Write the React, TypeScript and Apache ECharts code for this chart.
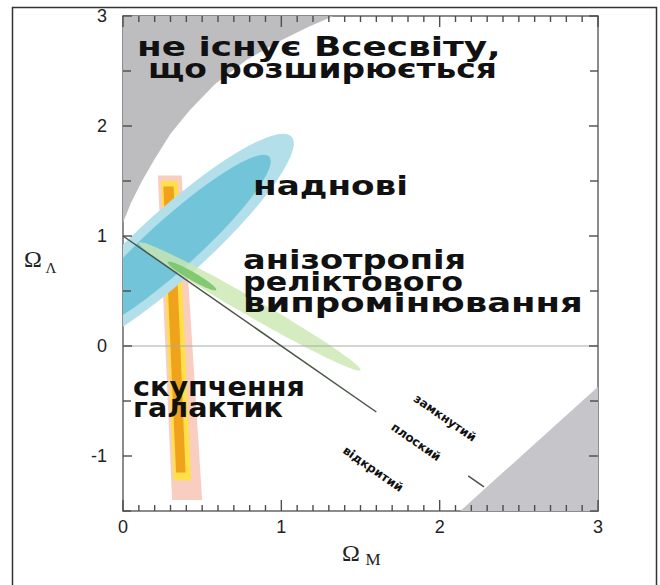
import React, { useEffect, useRef } from "react";
import * as echarts from "echarts";

// ---------- data (Ω_M, Ω_Λ) ----------
const xTickValues = [0, 1, 2, 3];
const yTickValues = [-1, 0, 1, 2, 3];
const xMinorTickValues = [
  0.1, 0.2, 0.3, 0.4, 0.5, 0.6, 0.7, 0.8, 0.9,
  1.1, 1.2, 1.3, 1.4, 1.5, 1.6, 1.7, 1.8, 1.9,
  2.1, 2.2, 2.3, 2.4, 2.5, 2.6, 2.7, 2.8, 2.9,
];
const yHalfTickValues = [-1.5, -0.5, 0.5, 1.5, 2.5];

// boundary of the "no expanding universe" region (top-left)
const noBigBangEdge: number[][] = [
  [0, 1.12], [0.05, 1.3], [0.12, 1.5], [0.2, 1.7], [0.3, 1.93],
  [0.42, 2.14], [0.58, 2.38], [0.78, 2.6], [1.0, 2.78], [1.17, 2.9], [1.33, 3.0],
];
const noBigBangCorner: number[][] = [[0, 3]];
// bottom-right grey region
const recollapseRegion: number[][] = [[2.13, -1.5], [3, -1.5], [3, -0.37]];

// flat universe line Ω_M + Ω_Λ = 1
const flatLine: number[][] = [[0, 1], [1.6, -0.6]];
const flatLineTail: number[][] = [[2.18, -1.18], [2.28, -1.28]];
const zeroLine: number[][] = [[0, 0], [3, 0]];

// galaxy cluster constraint (vertical band)
const clusterOuter: number[][] = [[0.22, 1.55], [0.37, 1.55], [0.5, -1.4], [0.31, -1.4]];
const clusterMid: number[][] = [[0.24, 1.5], [0.345, 1.5], [0.43, -1.22], [0.32, -1.22]];
const clusterCore: number[][] = [[0.255, 1.45], [0.32, 1.45], [0.395, -1.15], [0.335, -1.15]];

// confidence ellipses: centre, major semi-axis vector, minor semi-axis vector
const supernovaOuter = { c: [0.316, 0.927], u: [0.749, 0.976], v: [0.144, -0.229] };
const supernovaInner = { c: [0.316, 0.927], u: [0.608, 0.793], v: [0.106, -0.168] };
const cmbOuter = { c: [0.80, 0.36], u: [0.70, -0.58], v: [-0.028, -0.07] };
const cmbInner = { c: [0.436, 0.636], u: [0.153, -0.127], v: [-0.013, -0.032] };

// texts
const regionLabels = {
  noBigBang: ["не існує Всесвіту,", "що розширюється"],
  supernova: ["наднові"],
  cmb: ["анізотропія", "реліктового", "випромінювання"],
  clusters: ["скупчення", "галактик"],
};
const geometryLabels = ["замкнутий", "плоский", "відкритий"];

const X_MIN = 0, X_MAX = 3, Y_MIN = -1.5, Y_MAX = 3;

// ---------- helpers ----------
function clipPolygon(points: number[][], r: any): number[][] {
  const xmin = r.x, xmax = r.x + r.width, ymin = r.y, ymax = r.y + r.height;
  const planes = [
    { inside: (p: number[]) => p[0] >= xmin, cut: (a: number[], b: number[]) => { const t = (xmin - a[0]) / (b[0] - a[0]); return [xmin, a[1] + t * (b[1] - a[1])]; } },
    { inside: (p: number[]) => p[0] <= xmax, cut: (a: number[], b: number[]) => { const t = (xmax - a[0]) / (b[0] - a[0]); return [xmax, a[1] + t * (b[1] - a[1])]; } },
    { inside: (p: number[]) => p[1] >= ymin, cut: (a: number[], b: number[]) => { const t = (ymin - a[1]) / (b[1] - a[1]); return [a[0] + t * (b[0] - a[0]), ymin]; } },
    { inside: (p: number[]) => p[1] <= ymax, cut: (a: number[], b: number[]) => { const t = (ymax - a[1]) / (b[1] - a[1]); return [a[0] + t * (b[0] - a[0]), ymax]; } },
  ];
  let out = points;
  for (const pl of planes) {
    const inp = out;
    out = [];
    if (!inp.length) break;
    for (let i = 0; i < inp.length; i++) {
      const cur = inp[i];
      const prev = inp[(i + inp.length - 1) % inp.length];
      const ci = pl.inside(cur), pi = pl.inside(prev);
      if (ci) {
        if (!pi) out.push(pl.cut(prev, cur));
        out.push(cur);
      } else if (pi) {
        out.push(pl.cut(prev, cur));
      }
    }
  }
  return out;
}

function ellipseOutline(e: { c: number[]; u: number[]; v: number[] }): number[][] {
  const pts: number[][] = [];
  const n = 90;
  for (let i = 0; i < n; i++) {
    const t = (i / n) * Math.PI * 2;
    pts.push([
      e.c[0] + e.u[0] * Math.cos(t) + e.v[0] * Math.sin(t),
      e.c[1] + e.u[1] * Math.cos(t) + e.v[1] * Math.sin(t),
    ]);
  }
  return pts;
}

function areaSeries(name: string, dataPts: number[][], style: any, z: number) {
  return {
    type: "custom",
    name,
    z,
    silent: true,
    data: [[dataPts[0][0], dataPts[0][1]]],
    renderItem: (params: any, api: any) => {
      const px = dataPts.map((p) => api.coord(p));
      const clipped = clipPolygon(px, params.coordSys);
      return {
        type: "polygon",
        shape: { points: clipped },
        style,
      };
    },
  };
}

function measure(text: string, font: string): number {
  const c = document.createElement("canvas").getContext("2d");
  if (!c) return text.length * 16;
  c.font = font;
  return c.measureText(text).width;
}

const BIG_FONT = 'bold 26px "DejaVu Sans"';
function bigText(text: string, x: number, y: number, width: number) {
  const w = measure(text, BIG_FONT);
  return {
    type: "text",
    x,
    y,
    scaleX: width / w,
    z: 100,
    style: { text, font: BIG_FONT, fill: "#111", align: "left", verticalAlign: "middle" },
  };
}

export default function App() {
  const ref = useRef<HTMLDivElement>(null);
  useEffect(() => {
    if (!ref.current) return;
    const chart = echarts.init(ref.current, null, { renderer: "svg" });
    const tickLabelStyle = { fontSize: 18, color: "#222", fontFamily: '"Liberation Sans", Arial, sans-serif' };
    const mkLine = () => ({ show: true, onZero: false, lineStyle: { color: "#666", width: 1.5 } });

    const smallFont = 'bold 12px "DejaVu Sans"';
    const rot = -0.607;

    chart.setOption({
      animation: false,
      backgroundColor: "#fff",
      grid: { left: 123, right: 62, top: 16, bottom: 74, containLabel: false },
      xAxis: [
        {
          type: "value", position: "bottom", min: X_MIN, max: X_MAX, interval: 1,
          axisLine: mkLine(), splitLine: { show: false }, axisTick: { show: false },
          axisLabel: { show: true, ...tickLabelStyle, margin: 7 },
        },
        {
          type: "value", position: "top", min: X_MIN, max: X_MAX, interval: 1,
          axisLine: mkLine(), splitLine: { show: false }, axisTick: { show: false },
          axisLabel: { show: false },
        },
      ],
      yAxis: [
        {
          type: "value", position: "left", min: Y_MIN, max: Y_MAX, interval: 0.5,
          axisLine: mkLine(), splitLine: { show: false }, axisTick: { show: false },
          axisLabel: {
            show: true, ...tickLabelStyle, margin: 16,
            formatter: (v: number) => (yTickValues.indexOf(v) >= 0 ? String(v) : ""),
          },
        },
        {
          type: "value", position: "right", min: Y_MIN, max: Y_MAX, interval: 0.5,
          axisLine: mkLine(), splitLine: { show: false }, axisTick: { show: false },
          axisLabel: { show: false },
        },
      ],
      series: [
        areaSeries("no expansion", [...noBigBangEdge, ...noBigBangCorner], { fill: "#bdbdbf" }, 1),
        areaSeries("recollapse", recollapseRegion, { fill: "#c6c6ca" }, 1),
        areaSeries("clusters outer", clusterOuter, { fill: "#f7c2b2", opacity: 0.8 }, 2),
        areaSeries("clusters mid", clusterMid, { fill: "#ffdf4a" }, 3),
        areaSeries("clusters core", clusterCore, { fill: "#f0a21c" }, 4),
        areaSeries("supernova outer", ellipseOutline(supernovaOuter), { fill: "#b2dfea" }, 5),
        areaSeries("supernova inner", ellipseOutline(supernovaInner), { fill: "#72c4d9" }, 6),
        areaSeries("cmb outer", ellipseOutline(cmbOuter), { fill: "#cbe7b2", opacity: 0.8 }, 7),
        areaSeries("cmb inner", ellipseOutline(cmbInner), { fill: "#74c264", opacity: 0.85 }, 8),
        {
          type: "line", name: "zero", data: zeroLine, symbol: "none", z: 9, silent: true,
          lineStyle: { color: "#aaaaaa", width: 1.2 },
        },
        {
          type: "line", name: "flat", data: flatLine, symbol: "none", z: 10, silent: true,
          lineStyle: { color: "#4a5548", width: 1.5 },
        },
        {
          type: "line", name: "flat tail", data: flatLineTail, symbol: "none", z: 10, silent: true,
          lineStyle: { color: "#4a5548", width: 1.5 },
        },
      ],
    });

    // tick marks through the chart's own scales
    const toPx = (p: number[]) => chart.convertToPixel({ gridIndex: 0 }, p) as number[];
    const tickStyle = { stroke: "#4d4d4d", lineWidth: 1.4 };
    const ticks: any[] = [];
    const bottomY = toPx([X_MIN, Y_MIN])[1];
    const topY = toPx([X_MIN, Y_MAX])[1];
    const leftX = toPx([X_MIN, Y_MIN])[0];
    const rightX = toPx([X_MAX, Y_MIN])[0];
    const addX = (v: number, len: number) => {
      const x = toPx([v, 0])[0];
      ticks.push({ type: "line", z: 150, silent: true, shape: { x1: x, y1: bottomY, x2: x, y2: bottomY - len }, style: tickStyle });
      ticks.push({ type: "line", z: 150, silent: true, shape: { x1: x, y1: topY, x2: x, y2: topY + len }, style: tickStyle });
    };
    const addY = (v: number, len: number) => {
      const y = toPx([0, v])[1];
      ticks.push({ type: "line", z: 150, silent: true, shape: { x1: leftX, y1: y, x2: leftX + len, y2: y }, style: tickStyle });
      ticks.push({ type: "line", z: 150, silent: true, shape: { x1: rightX, y1: y, x2: rightX - len, y2: y }, style: tickStyle });
    };
    xTickValues.forEach((v) => addX(v, 11));
    xMinorTickValues.forEach((v) => addX(v, 6));
    yTickValues.forEach((v) => addY(v, 9));
    yHalfTickValues.forEach((v) => addY(v, 8));

    chart.setOption({
      graphic: [
        {
          type: "rect", z: 200, silent: true,
          shape: { x: 12.5, y: 7.5, width: 644, height: 620 },
          style: { fill: "none", stroke: "#333", lineWidth: 1.5 },
        },
        ...ticks,
        bigText(regionLabels.noBigBang[0], 137, 47, 364),
        bigText(regionLabels.noBigBang[1], 148, 69, 349),
        bigText(regionLabels.supernova[0], 253, 186, 155),
        bigText(regionLabels.cmb[0], 243, 260, 223),
        bigText(regionLabels.cmb[1], 243, 282, 220),
        bigText(regionLabels.cmb[2], 243, 303, 340),
        bigText(regionLabels.clusters[0], 133, 387, 172),
        bigText(regionLabels.clusters[1], 133, 408, 150),
        {
          type: "text", x: 445, y: 418, rotation: rot, z: 100,
          style: { text: geometryLabels[0], font: smallFont, fill: "#111", align: "center", verticalAlign: "middle" },
        },
        {
          type: "text", x: 416, y: 442, rotation: rot, z: 100,
          style: { text: geometryLabels[1], font: smallFont, fill: "#111", align: "center", verticalAlign: "middle" },
        },
        {
          type: "text", x: 373, y: 469, rotation: rot, z: 100,
          style: { text: geometryLabels[2], font: smallFont, fill: "#111", align: "center", verticalAlign: "middle" },
        },
        {
          type: "text", x: 33, y: 259, z: 100,
          style: { text: "Ω", font: '24px "Liberation Serif"', fill: "#222", align: "center", verticalAlign: "middle" },
        },
        {
          type: "text", x: 51, y: 268, z: 100,
          style: { text: "Λ", font: '15px "Liberation Serif"', fill: "#222", align: "center", verticalAlign: "middle" },
        },
        {
          type: "text", x: 351, y: 553, z: 100,
          style: { text: "Ω", font: '24px "Liberation Serif"', fill: "#222", align: "center", verticalAlign: "middle" },
        },
        {
          type: "text", x: 373, y: 559, z: 100,
          style: { text: "M", font: '17px "Liberation Serif"', fill: "#222", align: "center", verticalAlign: "middle" },
        },
      ],
    });
    return () => chart.dispose();
  }, []);
  return (
    <div
      ref={ref}
      style={{ position: "absolute", left: 0, top: 0, width: 660, height: 585, background: "#fff" }}
    />
  );
}
